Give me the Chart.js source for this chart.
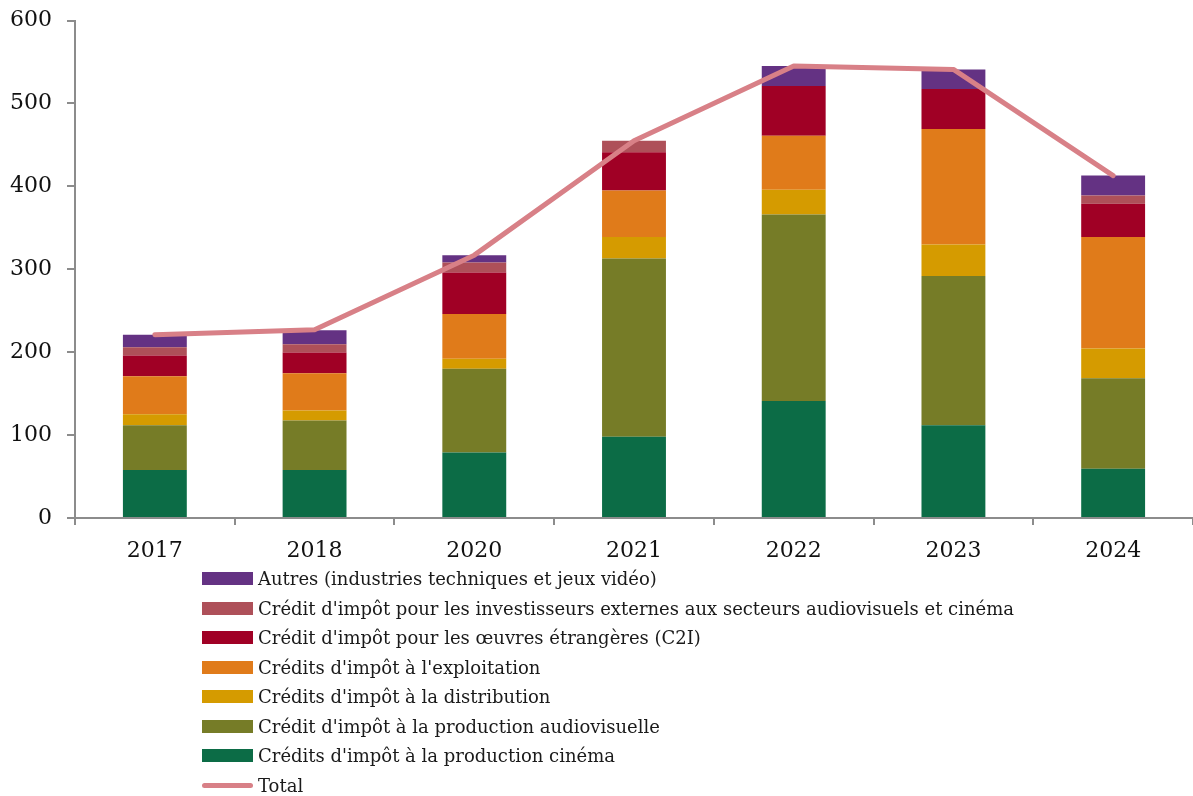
<!DOCTYPE html>
<html>
<head>
<meta charset="utf-8">
<script src="https://cdn.jsdelivr.net/npm/chart.js@4/dist/chart.umd.min.js"></script>
<style>
  html, body { margin: 0; padding: 0; background: #fff; }
  #wrap { position: relative; width: 1193px; height: 796px; }
  #c { position: absolute; left: 0; top: 0; }
  #legend { position: absolute; left: 202px; top: 564px; font-family: "DejaVu Serif", serif; font-size: 18px; color: #1a1a1a; }
  .item { height: 29.5px; display: flex; align-items: center; white-space: nowrap; }
  .sw { width: 51px; height: 13px; margin-right: 5px; flex: none; }
  .ln { width: 51px; height: 5px; border-radius: 3px; margin-right: 5px; flex: none; }
</style>
</head>
<body>
<div id="wrap">
<canvas id="c" width="1193" height="796"></canvas>
<div id="legend"></div>
</div>
<script>
const categories = ["2017", "2018", "2020", "2021", "2022", "2023", "2024"];

const cinema        = [58, 58, 79, 98, 141, 112, 59.5];
const audiovisuelle = [54, 59.5, 101, 215, 225, 180, 109];
const distribution  = [13, 12, 12, 26, 30, 38, 36];
const exploitation  = [46, 45, 54, 56, 65, 139, 134.5];
const c2i           = [25, 25, 50, 46, 60, 48.5, 40];
const investisseurs = [10, 10, 12, 14, 0, 0, 10];
const autres        = [15, 17, 9, 0, 24, 23.5, 24];
const total         = [221, 227, 317, 455, 545, 541, 413];

const yTicks = [0, 100, 200, 300, 400, 500, 600];

const seriesNames = {
  autres: "Autres (industries techniques et jeux vidéo)",
  investisseurs: "Crédit d'impôt pour les investisseurs externes aux secteurs audiovisuels et cinéma",
  c2i: "Crédit d'impôt pour les œuvres étrangères (C2I)",
  exploitation: "Crédits d'impôt à l'exploitation",
  distribution: "Crédits d'impôt à la distribution",
  audiovisuelle: "Crédit d'impôt à la production audiovisuelle",
  cinema: "Crédits d'impôt à la production cinéma",
  total: "Total"
};

const colors = {
  cinema: "#0C6C46",
  audiovisuelle: "#767C27",
  distribution: "#D59B00",
  exploitation: "#E07B1A",
  c2i: "#A00025",
  investisseurs: "#AE5059",
  autres: "#643283",
  total: "#D88087"
};

function bar(key, data) {
  return {
    type: "bar", label: seriesNames[key], data: data,
    backgroundColor: colors[key], borderWidth: 0,
    stack: "s", order: 1,
    barPercentage: 0.4, categoryPercentage: 1.0
  };
}

const datasets = [
  bar("cinema", cinema),
  bar("audiovisuelle", audiovisuelle),
  bar("distribution", distribution),
  bar("exploitation", exploitation),
  bar("c2i", c2i),
  bar("investisseurs", investisseurs),
  bar("autres", autres),
  {
    type: "line", label: seriesNames.total, data: total,
    borderColor: colors.total, backgroundColor: colors.total,
    borderWidth: 5, borderCapStyle: "round", borderJoinStyle: "round",
    pointRadius: 0, tension: 0, order: 0
  }
];

const axisColor = "#8c8c8c";

new Chart(document.getElementById("c"), {
  type: "bar",
  data: { labels: categories, datasets: datasets },
  options: {
    responsive: false,
    animation: false,
    layout: { padding: { top: 20, right: 0, bottom: 228, left: 0 } },
    plugins: { legend: { display: false }, tooltip: { enabled: false } },
    scales: {
      x: {
        stacked: true,
        grid: { display: true, offset: true, drawOnChartArea: false, drawTicks: true, tickLength: 7, color: axisColor, lineWidth: 2 },
        border: { display: true, color: axisColor, width: 2 },
        ticks: { color: "#111", font: { family: "DejaVu Serif", size: 22 }, padding: 13 },
        afterFit: (s) => { s.height = 50; }
      },
      y: {
        stacked: true, min: 0, max: 600,
        afterBuildTicks: (s) => { s.ticks = yTicks.map(v => ({ value: v })); },
        grid: { display: true, drawOnChartArea: false, drawTicks: true, tickLength: 8, color: axisColor, lineWidth: 2 },
        border: { display: true, color: axisColor, width: 2 },
        ticks: { color: "#111", font: { family: "DejaVu Serif", size: 22, lineHeight: 0.5 }, padding: 15 },
        afterFit: (s) => { s.width = 75; }
      }
    }
  }
});

// HTML legend built from the series names (top to bottom as in the reference)
const legendOrder = ["autres", "investisseurs", "c2i", "exploitation", "distribution", "audiovisuelle", "cinema", "total"];
const lg = document.getElementById("legend");
legendOrder.forEach(k => {
  const it = document.createElement("div");
  it.className = "item";
  const sw = document.createElement("span");
  sw.className = k === "total" ? "ln" : "sw";
  sw.style.background = colors[k];
  const tx = document.createElement("span");
  tx.textContent = seriesNames[k];
  it.appendChild(sw); it.appendChild(tx);
  lg.appendChild(it);
});
</script>
</body>
</html>
